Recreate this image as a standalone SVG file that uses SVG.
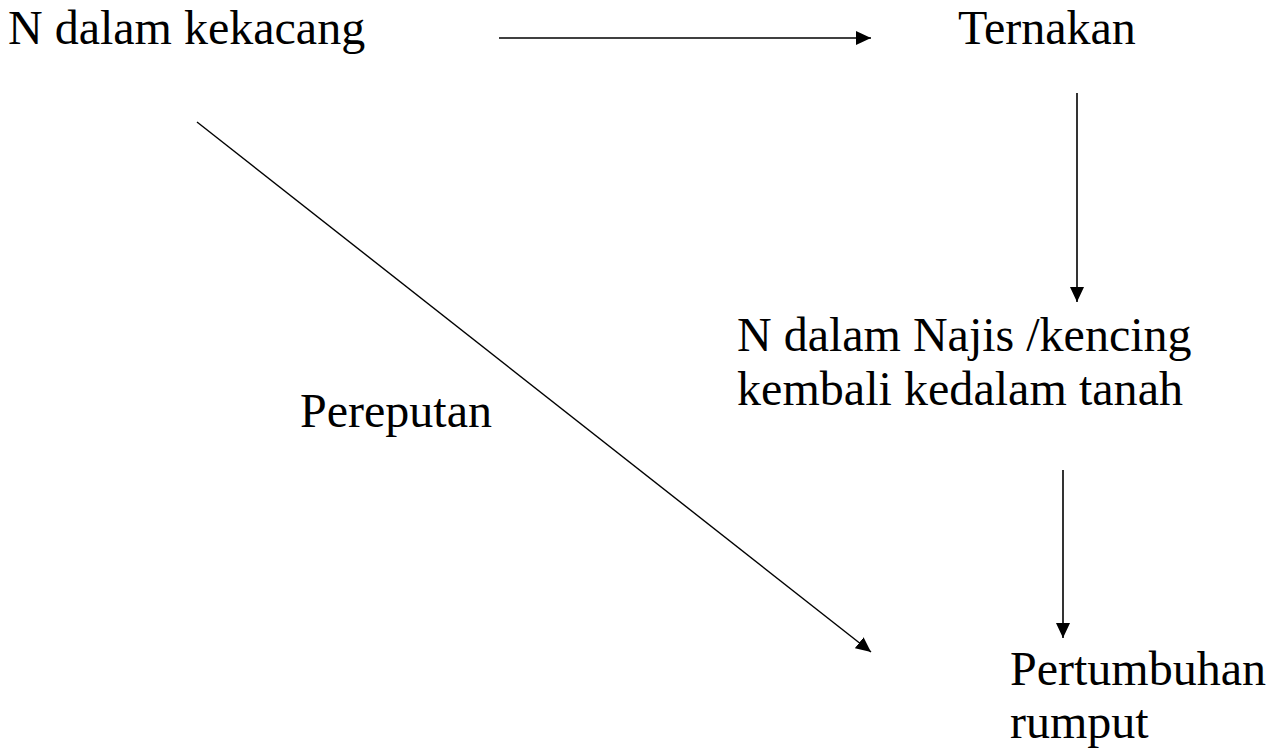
<svg xmlns="http://www.w3.org/2000/svg" width="1281" height="751" viewBox="0 0 1281 751">
<style>
  .t { font-family: "Liberation Serif", "Times New Roman", Tinos, "DejaVu Serif", serif; font-size: 48px; fill: #000; }
  .c { stroke: #000; stroke-width: 1.6; fill: none; marker-end: url(#ah); }
</style>
<defs>
  <marker id="ah" markerUnits="userSpaceOnUse" markerWidth="16" markerHeight="15" refX="15" refY="7" orient="auto">
    <path d="M0,0 L15,7 L0,14 z" fill="#000"/>
  </marker>
</defs>
<rect width="1281" height="751" fill="#fff"/>
<g id="connectors">
  <line class="c" x1="499" y1="38" x2="871" y2="38"/>
  <line class="c" x1="1077" y1="93" x2="1077" y2="302"/>
  <line class="c" x1="1063" y1="470" x2="1063" y2="638"/>
  <line class="c" style="stroke-width:1.4" x1="197" y1="122" x2="871" y2="652"/>
</g>
<g id="n-kekacang"><text class="t" x="8" y="44" font-family="Liberation Serif, serif">N dalam kekacang</text></g>
<g id="n-ternakan"><text class="t" x="958" y="44" font-family="Liberation Serif, serif">Ternakan</text></g>
<g id="n-najis">
  <text class="t" x="737" y="351" font-family="Liberation Serif, serif">N dalam Najis /kencing</text>
  <text class="t" x="737" y="405" font-family="Liberation Serif, serif" textLength="446" lengthAdjust="spacing">kembali kedalam tanah</text>
</g>
<g id="n-pereputan"><text class="t" x="300" y="427" font-family="Liberation Serif, serif">Pereputan</text></g>
<g id="n-pertumbuhan">
  <text class="t" x="1010" y="685" font-family="Liberation Serif, serif">Pertumbuhan</text>
  <text class="t" x="1010" y="738" font-family="Liberation Serif, serif">rumput</text>
</g>
</svg>
